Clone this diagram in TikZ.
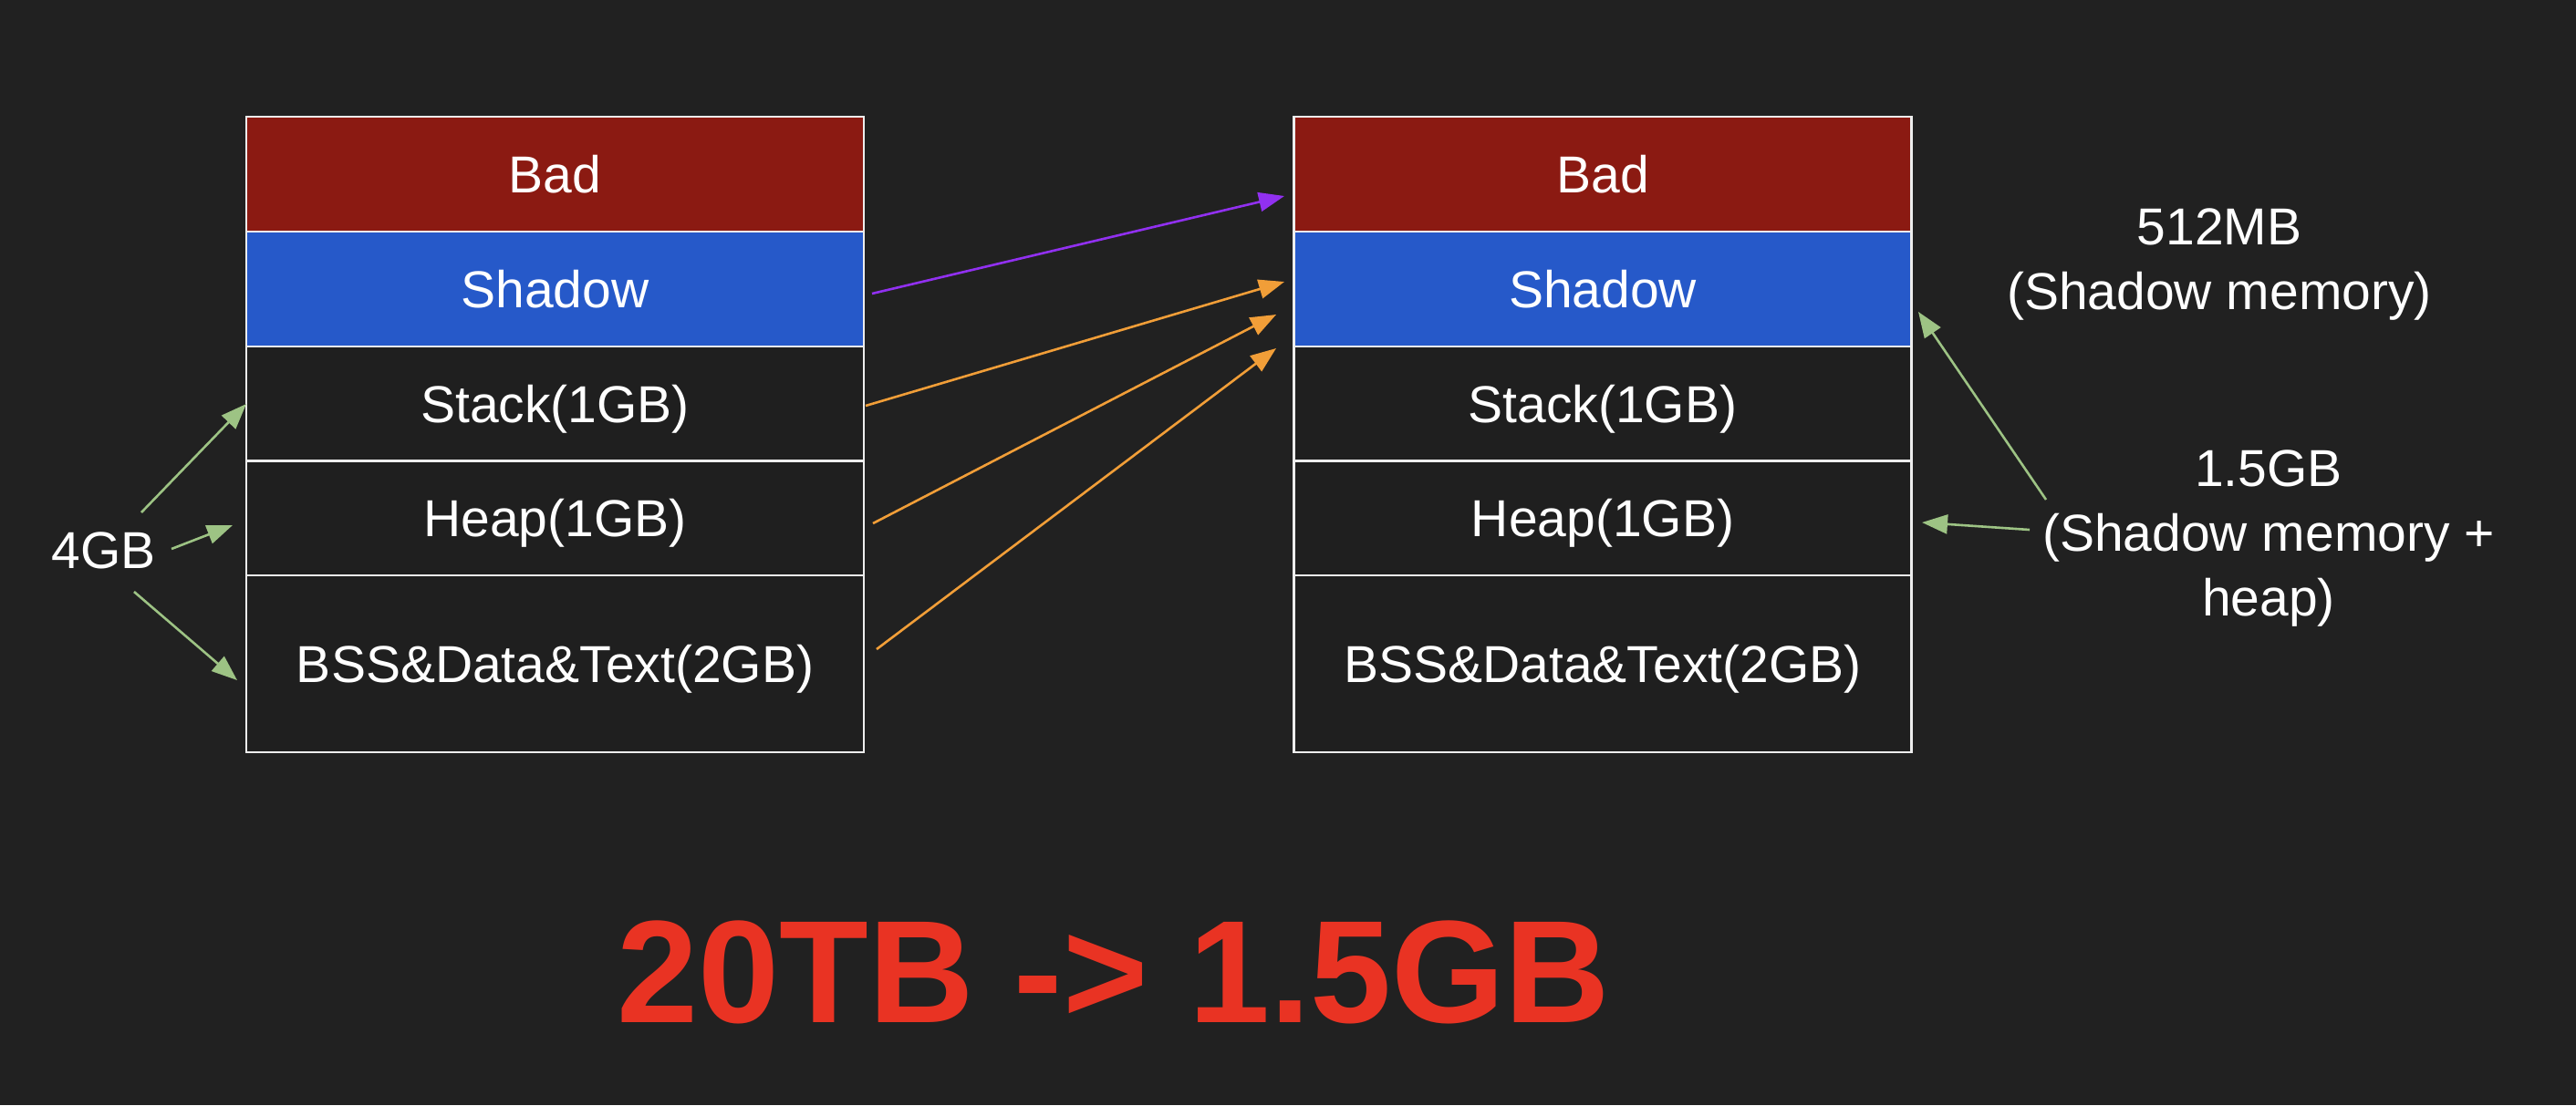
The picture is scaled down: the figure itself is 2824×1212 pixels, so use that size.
\documentclass[tikz,border=0pt]{standalone}
\usepackage{fontspec}
\setmainfont{Liberation Sans}
\usetikzlibrary{arrows.meta}
\definecolor{bg}{HTML}{212121}
\definecolor{cellbg}{HTML}{1F1F1F}
\definecolor{badred}{HTML}{8B1A12}
\definecolor{shadowblue}{HTML}{2659C9}
\definecolor{boxline}{HTML}{EDEDED}
\definecolor{purplearr}{HTML}{9130F0}
\definecolor{orangearr}{HTML}{F19E38}
\definecolor{greenarr}{HTML}{9DC384}
\definecolor{bigred}{HTML}{E93323}
\begin{document}
\begin{tikzpicture}[x=0.5pt,y=-0.5pt,
  cell/.style={draw=boxline, line width=1.3pt, fill=cellbg, minimum width=338.5pt,
    minimum height=63pt, inner sep=0pt, text height=20.4pt, text depth=0pt,
    text=white, font=\fontsize{28.5}{35}\selectfont},
  lbl/.style={text=white, align=center, inner sep=0pt, font=\fontsize{28.5}{35.5}\selectfont},
  arr/.style={line width=1.3pt, -{Triangle[length=14pt,width=10.5pt]}}
]
\fill[bg] (0,0) rectangle (2824,1212);
\useasboundingbox (0,0) rectangle (2824,1212);

% left column
\node[cell, fill=badred] (LBad) at (608.5,191) {Bad};
\node[cell, fill=shadowblue] (LShadow) at (608.5,317) {Shadow};
\node[cell] (LStack) at (608.5,443) {Stack(1GB)};
\node[cell] (LHeap) at (608.5,568.5) {Heap(1GB)};
\node[cell, minimum height=97pt] (LBSS) at (608.5,728) {BSS\&Data\&Text(2GB)};

% right column
\node[cell, fill=badred] (RBad) at (1757,191) {Bad};
\node[cell, fill=shadowblue] (RShadow) at (1757,317) {Shadow};
\node[cell] (RStack) at (1757,443) {Stack(1GB)};
\node[cell] (RHeap) at (1757,568.5) {Heap(1GB)};
\node[cell, minimum height=97pt] (RBSS) at (1757,728) {BSS\&Data\&Text(2GB)};

% labels
\node[lbl, text height=20.4pt, text depth=0pt] (four) at (113.5,603) {4GB};
\node[lbl] (mb512) at (2433,290) {512MB\\(Shadow memory)};
\node[lbl] (gb15) at (2487,590) {1.5GB\\(Shadow memory +\\heap)};
\node[text=bigred, inner sep=0pt, anchor=base, font=\fontsize{80}{96}\selectfont\bfseries] (big) at (1221,1121) {20TB -> 1.5GB};

% endpoints
\coordinate (g1s) at (155,562);  \coordinate (g1e) at (270,443);
\coordinate (g2s) at (188,602);  \coordinate (g2e) at (255,576);
\coordinate (g3s) at (147,649);  \coordinate (g3e) at (260,746);
\coordinate (ps) at (956,322);   \coordinate (pe) at (1408,215);
\coordinate (o1s) at (949,445);  \coordinate (o1e) at (1408,309);
\coordinate (o2s) at (957,574);  \coordinate (o2e) at (1399,345);
\coordinate (o3s) at (961,712);  \coordinate (o3e) at (1399,382);
\coordinate (ras) at (2243,548); \coordinate (rae) at (2103,342);
\coordinate (rbs) at (2225,581); \coordinate (rbe) at (2107,573);

\draw[arr, greenarr] (g1s) -- (g1e);
\draw[arr, greenarr] (g2s) -- (g2e);
\draw[arr, greenarr] (g3s) -- (g3e);
\draw[arr, purplearr] (ps) -- (pe);
\draw[arr, orangearr] (o1s) -- (o1e);
\draw[arr, orangearr] (o2s) -- (o2e);
\draw[arr, orangearr] (o3s) -- (o3e);
\draw[arr, greenarr] (ras) -- (rae);
\draw[arr, greenarr] (rbs) -- (rbe);
\end{tikzpicture}
\end{document}
